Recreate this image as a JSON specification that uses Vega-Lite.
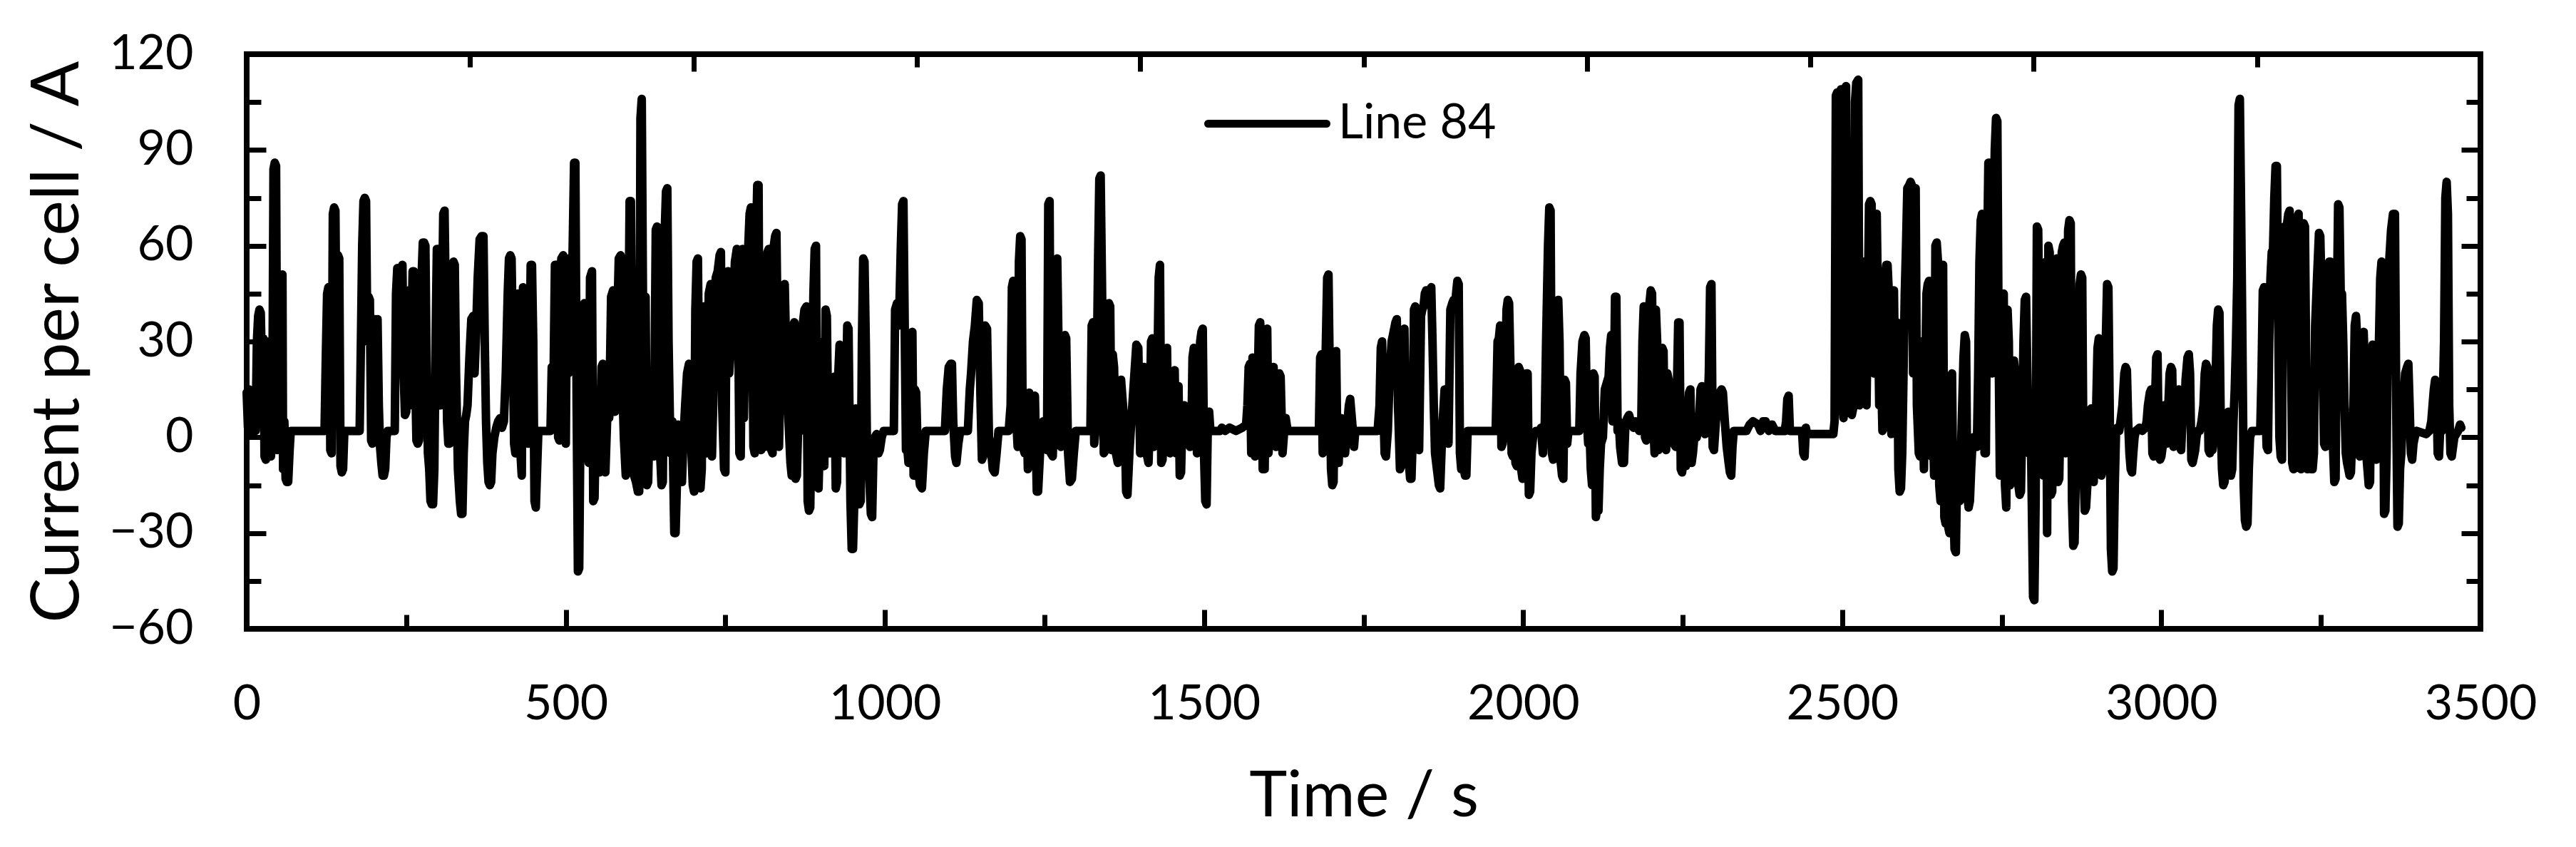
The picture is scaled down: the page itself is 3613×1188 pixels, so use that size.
{
"$schema":"https://vega.github.io/schema/vega-lite/v6.json",
"width":3133,"height":806,
"autosize":{"type":"none"},
"padding":{"left":346,"top":76,"right":134,"bottom":306},
"background":"white",
"data":{"values":[
{"t":0,"v":14},{"t":2,"v":3},{"t":4,"v":15},{"t":6,"v":2},{"t":8,"v":13},{"t":10,"v":1},{"t":12,"v":14},{"t":14,"v":2},{"t":16,"v":30},{"t":18,"v":38},{"t":20,"v":40},{"t":22,"v":39},{"t":24,"v":20},{"t":26,"v":31},{"t":28,"v":-6},{"t":30,"v":-7},{"t":32,"v":30},{"t":34,"v":5},{"t":36,"v":-5},{"t":38,"v":-6},{"t":40,"v":0},{"t":42,"v":84},{"t":44,"v":86},{"t":46,"v":85},{"t":48,"v":-4},{"t":50,"v":5},{"t":52,"v":45},{"t":54,"v":50},{"t":56,"v":51},{"t":57,"v":-10},{"t":59,"v":5},{"t":61,"v":-13},{"t":63,"v":-14},{"t":65,"v":-14},{"t":67,"v":-5},{"t":69,"v":2},
{"t":122,"v":2},{"t":124,"v":25},{"t":126,"v":45},{"t":128,"v":47},{"t":130,"v":46},{"t":131,"v":-4},{"t":133,"v":-5},{"t":135,"v":70},{"t":137,"v":72},{"t":139,"v":71},{"t":141,"v":20},{"t":143,"v":57},{"t":145,"v":56},{"t":147,"v":-9},{"t":149,"v":-11},{"t":151,"v":-10},{"t":153,"v":2},{"t":177,"v":2},{"t":179,"v":30},{"t":181,"v":60},{"t":183,"v":74},{"t":185,"v":75},{"t":187,"v":74},{"t":189,"v":30},{"t":191,"v":44},{"t":193,"v":43},{"t":195,"v":-1},{"t":197,"v":-2},{"t":199,"v":30},{"t":201,"v":37},{"t":203,"v":36},{"t":205,"v":37},{"t":207,"v":10},{"t":209,"v":-3},{"t":211,"v":-8},{"t":213,"v":-12},{"t":215,"v":-12},{"t":217,"v":-10},{"t":219,"v":0},{"t":221,"v":2},{"t":230,"v":2},
{"t":232,"v":2},{"t":234,"v":45},{"t":236,"v":53},{"t":238,"v":53},{"t":240,"v":30},{"t":242,"v":53},{"t":244,"v":54},{"t":246,"v":20},{"t":248,"v":7},{"t":250,"v":8},{"t":252,"v":45},{"t":254,"v":46},{"t":256,"v":10},{"t":258,"v":30},{"t":260,"v":52},{"t":262,"v":52},{"t":264,"v":20},{"t":266,"v":-1},{"t":268,"v":-2},{"t":270,"v":-1},{"t":272,"v":10},{"t":274,"v":50},{"t":276,"v":61},{"t":278,"v":61},{"t":280,"v":60},{"t":282,"v":20},{"t":284,"v":-5},{"t":286,"v":-10},{"t":288,"v":-20},{"t":290,"v":-21},{"t":292,"v":-21},{"t":294,"v":-10},{"t":296,"v":30},{"t":298,"v":59},{"t":300,"v":59},{"t":302,"v":30},{"t":304,"v":10},{"t":306,"v":40},{"t":308,"v":70},{"t":310,"v":71},{"t":312,"v":40},{"t":314,"v":5},{"t":316,"v":-2},{"t":318,"v":-2},
{"t":321,"v":40},{"t":324,"v":55},{"t":326,"v":54},{"t":328,"v":20},{"t":331,"v":-10},{"t":334,"v":-20},{"t":336,"v":-24},{"t":338,"v":-24},{"t":340,"v":-5},{"t":342,"v":5},{"t":344,"v":7},{"t":346,"v":10},{"t":349,"v":25},{"t":352,"v":37},{"t":355,"v":38},{"t":357,"v":20},{"t":359,"v":30},{"t":362,"v":50},{"t":365,"v":62},{"t":368,"v":63},{"t":371,"v":63},{"t":373,"v":30},{"t":375,"v":5},{"t":377,"v":-8},{"t":379,"v":-14},{"t":381,"v":-15},{"t":383,"v":-14},{"t":385,"v":-5},{"t":388,"v":0},{"t":391,"v":3},{"t":394,"v":5},{"t":397,"v":6},{"t":400,"v":3},{"t":403,"v":5},{"t":406,"v":20},{"t":409,"v":45},{"t":411,"v":56},{"t":413,"v":57},{"t":415,"v":56},{"t":417,"v":30},{"t":419,"v":-2},{"t":421,"v":-5},{"t":423,"v":44},{"t":425,"v":45},{"t":427,"v":10},{"t":429,"v":-5},{"t":431,"v":-12},{"t":433,"v":47},{"t":435,"v":46},{"t":437,"v":20},{"t":439,"v":0},{"t":441,"v":-2},{"t":443,"v":20},{"t":445,"v":54},{"t":447,"v":54},{"t":449,"v":30},{"t":451,"v":-20},{"t":453,"v":-22},{"t":455,"v":-10},{"t":457,"v":2},{"t":476,"v":2},
{"t":478,"v":22},{"t":480,"v":5},{"t":483,"v":54},{"t":486,"v":54},{"t":488,"v":0},{"t":490,"v":-1},{"t":493,"v":56},{"t":496,"v":57},{"t":498,"v":0},{"t":500,"v":-2},{"t":502,"v":56},{"t":504,"v":20},{"t":506,"v":30},{"t":510,"v":50},{"t":513,"v":86},{"t":515,"v":86},{"t":517,"v":10},{"t":519,"v":-42},{"t":521,"v":-41},{"t":523,"v":5},{"t":526,"v":40},{"t":529,"v":42},{"t":531,"v":20},{"t":534,"v":0},{"t":536,"v":-8},{"t":538,"v":50},{"t":541,"v":52},{"t":543,"v":-20},{"t":545,"v":-19},{"t":547,"v":5},{"t":550,"v":-5},{"t":553,"v":-11},{"t":556,"v":22},{"t":558,"v":23},{"t":560,"v":8},{"t":562,"v":-11},{"t":565,"v":7},{"t":568,"v":6},{"t":571,"v":44},{"t":574,"v":46},{"t":577,"v":8},{"t":580,"v":30},{"t":583,"v":56},{"t":586,"v":57},{"t":588,"v":20},{"t":591,"v":0},{"t":594,"v":-12},{"t":597,"v":5},{"t":600,"v":74},{"t":602,"v":74},{"t":604,"v":20},{"t":607,"v":-12},{"t":610,"v":-14},{"t":613,"v":-17},{"t":615,"v":-17},{"t":617,"v":100},{"t":619,"v":106},{"t":621,"v":40},{"t":623,"v":-5},{"t":625,"v":44},{"t":627,"v":-15},{"t":629,"v":-14},{"t":631,"v":5},{"t":634,"v":4},{"t":638,"v":-6},{"t":641,"v":65},{"t":643,"v":66},{"t":645,"v":30},{"t":648,"v":-6},{"t":650,"v":-15},{"t":652,"v":-14},{"t":655,"v":64},{"t":657,"v":77},{"t":659,"v":78},{"t":661,"v":30},{"t":664,"v":-5},{"t":667,"v":5},{"t":670,"v":-30},{"t":672,"v":-30},{"t":674,"v":-15},{"t":676,"v":4},{"t":679,"v":-8},{"t":682,"v":-14},{"t":684,"v":-2},{"t":687,"v":10},{"t":690,"v":20},{"t":693,"v":23},{"t":696,"v":0},{"t":699,"v":-15},{"t":701,"v":-17},{"t":703,"v":40},{"t":705,"v":55},
{"t":707,"v":56},{"t":709,"v":10},{"t":711,"v":-16},{"t":713,"v":-10},{"t":715,"v":40},{"t":717,"v":41},{"t":719,"v":5},{"t":721,"v":-5},{"t":724,"v":45},{"t":727,"v":48},{"t":729,"v":-6},{"t":732,"v":20},{"t":735,"v":50},{"t":738,"v":52},{"t":741,"v":57},{"t":743,"v":58},{"t":745,"v":10},{"t":748,"v":-10},{"t":750,"v":-11},{"t":752,"v":50},{"t":754,"v":52},{"t":756,"v":20},{"t":759,"v":30},{"t":762,"v":38},{"t":765,"v":55},{"t":768,"v":59},{"t":770,"v":40},{"t":772,"v":-5},{"t":774,"v":-6},{"t":777,"v":59},{"t":779,"v":6},{"t":782,"v":40},{"t":785,"v":55},{"t":788,"v":70},{"t":790,"v":72},{"t":792,"v":40},{"t":794,"v":-3},{"t":796,"v":-5},{"t":798,"v":60},{"t":800,"v":79},{"t":802,"v":79},{"t":804,"v":-3},{"t":806,"v":-4},{"t":808,"v":40},{"t":810,"v":8},{"t":812,"v":-3},{"t":814,"v":55},{"t":816,"v":58},{"t":818,"v":59},{"t":820,"v":20},{"t":822,"v":-4},{"t":824,"v":-5},{"t":826,"v":60},{"t":828,"v":63},{"t":830,"v":64},{"t":832,"v":30},{"t":834,"v":-3},{"t":837,"v":25},{"t":840,"v":47},{"t":843,"v":48},{"t":846,"v":20},{"t":849,"v":5},{"t":852,"v":-8},{"t":854,"v":-12},{"t":856,"v":35},{"t":858,"v":36},{"t":860,"v":-13},{"t":862,"v":-12},{"t":865,"v":10},{"t":868,"v":2},{"t":871,"v":35},{"t":874,"v":40},{"t":877,"v":41},{"t":879,"v":-20},{"t":881,"v":-23},{"t":883,"v":-22},{"t":885,"v":5},{"t":888,"v":45},{"t":890,"v":59},{"t":892,"v":60},{"t":894,"v":-15},{"t":896,"v":-16},{"t":898,"v":0},{"t":900,"v":10},{"t":903,"v":30},{"t":905,"v":-9},{"t":907,"v":40},{"t":909,"v":38},{"t":911,"v":5},{"t":914,"v":-5},{"t":917,"v":0},{"t":919,"v":18},{"t":921,"v":19},{"t":923,"v":-16},{"t":925,"v":-14},{"t":927,"v":20},{"t":929,"v":29},{"t":931,"v":28},{"t":933,"v":0},{"t":936,"v":-5},{"t":939,"v":10},{"t":941,"v":35},{"t":943,"v":34},{"t":946,"v":-20},{"t":948,"v":-35},{"t":950,"v":-35},{"t":952,"v":-20},{"t":954,"v":9},{"t":956,"v":8},{"t":958,"v":-8},{"t":960,"v":-21},{"t":962,"v":-20},{"t":964,"v":30},{"t":966,"v":56},{"t":968,"v":55},{"t":970,"v":30},{"t":972,"v":-5},{"t":975,"v":-10},{"t":978,"v":-24},{"t":980,"v":-25},{"t":982,"v":-5},{"t":984,"v":0},{"t":987,"v":1},{"t":990,"v":-5},{"t":992,"v":-4},{"t":995,"v":0},{"t":998,"v":2},{"t":1014,"v":2},{"t":1016,"v":40},{"t":1019,"v":42},{"t":1022,"v":35},{"t":1025,"v":60},{"t":1027,"v":73},{"t":1029,"v":74},{"t":1031,"v":35},{"t":1033,"v":-4},{"t":1035,"v":-3},{"t":1037,"v":-8},{"t":1039,"v":10},{"t":1041,"v":32},{"t":1043,"v":33},{"t":1045,"v":-12},{"t":1047,"v":15},{"t":1049,"v":14},{"t":1052,"v":-10},{"t":1055,"v":-15},{"t":1058,"v":-16},{"t":1061,"v":-5},{"t":1064,"v":2},{"t":1094,"v":2},{"t":1097,"v":15},{"t":1100,"v":22},{"t":1103,"v":23},{"t":1105,"v":23},{"t":1107,"v":5},{"t":1110,"v":-6},{"t":1112,"v":-8},{"t":1115,"v":-2},{"t":1118,"v":2},{"t":1130,"v":2},{"t":1133,"v":15},{"t":1135,"v":20},{"t":1138,"v":30},{"t":1141,"v":35},{"t":1144,"v":43},{"t":1147,"v":42},{"t":1150,"v":10},{"t":1152,"v":-7},{"t":1154,"v":-6},{"t":1157,"v":35},{"t":1160,"v":34},{"t":1163,"v":0},{"t":1166,"v":-3},{"t":1169,"v":-10},{"t":1172,"v":-11},{"t":1175,"v":-5},{"t":1178,"v":2},{"t":1194,"v":2},{"t":1197,"v":10},{"t":1199,"v":47},{"t":1201,"v":49},{"t":1203,"v":48},{"t":1206,"v":5},{"t":1208,"v":-3},{"t":1210,"v":55},{"t":1212,"v":63},{"t":1214,"v":62},{"t":1216,"v":-3},{"t":1219,"v":-5},{"t":1222,"v":10},{"t":1224,"v":-10},{"t":1226,"v":14},{"t":1229,"v":-5},{"t":1232,"v":12},{"t":1235,"v":13},{"t":1238,"v":-17},{"t":1240,"v":-17},{"t":1243,"v":-5},{"t":1246,"v":2},{"t":1248,"v":5},{"t":1250,"v":2},{"t":1254,"v":-4},{"t":1256,"v":73},{"t":1258,"v":74},{"t":1260,"v":-5},{"t":1263,"v":-6},{"t":1266,"v":20},{"t":1268,"v":55},{"t":1270,"v":56},{"t":1273,"v":15},{"t":1276,"v":-3},{"t":1279,"v":10},{"t":1282,"v":32},{"t":1284,"v":31},{"t":1287,"v":-5},{"t":1290,"v":-14},{"t":1293,"v":-13},{"t":1296,"v":-5},{"t":1299,"v":2},{"t":1322,"v":2},{"t":1324,"v":35},{"t":1326,"v":36},{"t":1328,"v":-2},{"t":1331,"v":5},{"t":1334,"v":55},{"t":1336,"v":81},{"t":1338,"v":82},{"t":1340,"v":50},{"t":1343,"v":-5},{"t":1346,"v":-4},{"t":1349,"v":10},{"t":1351,"v":42},{"t":1353,"v":41},{"t":1355,"v":-4},{"t":1357,"v":26},{"t":1359,"v":22},{"t":1362,"v":-5},{"t":1365,"v":-8},{"t":1368,"v":15},{"t":1370,"v":18},{"t":1373,"v":10},{"t":1376,"v":2},{"t":1378,"v":-17},{"t":1380,"v":-18},{"t":1383,"v":-5},{"t":1386,"v":5},{"t":1391,"v":20},{"t":1394,"v":29},{"t":1397,"v":28},{"t":1400,"v":-5},{"t":1403,"v":-3},{"t":1406,"v":22},{"t":1408,"v":21},
{"t":1410,"v":-5},{"t":1413,"v":-8},{"t":1415,"v":5},{"t":1417,"v":30},{"t":1419,"v":31},{"t":1421,"v":-3},{"t":1424,"v":0},{"t":1427,"v":20},{"t":1429,"v":50},{"t":1431,"v":54},{"t":1433,"v":-8},{"t":1435,"v":-7},{"t":1437,"v":10},{"t":1440,"v":26},{"t":1442,"v":28},{"t":1444,"v":-3},{"t":1447,"v":-5},{"t":1450,"v":5},{"t":1452,"v":20},{"t":1454,"v":21},{"t":1456,"v":-5},{"t":1458,"v":15},{"t":1460,"v":16},{"t":1462,"v":-12},{"t":1464,"v":-11},{"t":1466,"v":5},{"t":1469,"v":10},{"t":1472,"v":7},{"t":1475,"v":9},{"t":1478,"v":-3},{"t":1480,"v":-2},{"t":1482,"v":25},{"t":1484,"v":28},{"t":1486,"v":27},{"t":1489,"v":-5},{"t":1491,"v":-4},{"t":1494,"v":30},{"t":1496,"v":33},{"t":1498,"v":34},{"t":1500,"v":-5},{"t":1502,"v":-20},{"t":1504,"v":-21},{"t":1506,"v":5},{"t":1508,"v":8},{"t":1510,"v":2},{"t":1512,"v":2},{"t":1525,"v":2},{"t":1528,"v":3},{"t":1533,"v":2},{"t":1540,"v":3},{"t":1550,"v":2},{"t":1560,"v":3},{"t":1566,"v":4},{"t":1568,"v":10},{"t":1570,"v":22},{"t":1572,"v":23},{"t":1574,"v":-5},{"t":1576,"v":25},{"t":1578,"v":10},{"t":1580,"v":-6},{"t":1583,"v":5},{"t":1586,"v":35},{"t":1588,"v":36},{"t":1590,"v":25},{"t":1592,"v":-10},{"t":1595,"v":-10},{"t":1597,"v":33},{"t":1599,"v":34},{"t":1601,"v":-5},{"t":1604,"v":5},{"t":1607,"v":20},{"t":1609,"v":22},{"t":1611,"v":5},{"t":1613,"v":-3},{"t":1616,"v":5},{"t":1618,"v":20},{"t":1620,"v":19},{"t":1623,"v":-5},{"t":1626,"v":3},{"t":1628,"v":6},{"t":1631,"v":2},{"t":1634,"v":2},{"t":1680,"v":2},{"t":1682,"v":25},{"t":1684,"v":26},{"t":1686,"v":-5},{"t":1688,"v":0},{"t":1691,"v":30},{"t":1693,"v":50},{"t":1695,"v":51},{"t":1697,"v":20},{"t":1699,"v":-10},{"t":1701,"v":-15},{"t":1703,"v":-14},{"t":1705,"v":26},{"t":1707,"v":27},{"t":1709,"v":-5},{"t":1711,"v":-8},{"t":1713,"v":5},{"t":1715,"v":6},{"t":1718,"v":-2},{"t":1721,"v":-5},{"t":1724,"v":3},{"t":1727,"v":10},{"t":1729,"v":12},{"t":1732,"v":5},{"t":1735,"v":-3},{"t":1737,"v":2},{"t":1772,"v":2},{"t":1775,"v":10},{"t":1777,"v":28},{"t":1779,"v":30},{"t":1781,"v":10},{"t":1783,"v":-5},{"t":1785,"v":-6},{"t":1788,"v":2},{"t":1791,"v":20},{"t":1794,"v":30},{"t":1797,"v":33},{"t":1800,"v":36},{"t":1802,"v":37},{"t":1804,"v":10},{"t":1807,"v":-10},{"t":1809,"v":-9},{"t":1812,"v":33},{"t":1814,"v":34},{"t":1816,"v":5},{"t":1818,"v":-5},{"t":1821,"v":-8},{"t":1823,"v":-13},{"t":1825,"v":-13},{"t":1827,"v":0},{"t":1829,"v":40},{"t":1831,"v":41},{"t":1833,"v":20},{"t":1835,"v":-2},{"t":1837,"v":-4},{"t":1840,"v":38},{"t":1842,"v":40},{"t":1844,"v":41},{"t":1846,"v":45},{"t":1848,"v":46},{"t":1850,"v":46},{"t":1852,"v":44},{"t":1854,"v":45},{"t":1856,"v":47},{"t":1858,"v":30},{"t":1860,"v":10},{"t":1862,"v":-5},{"t":1865,"v":-10},{"t":1868,"v":-15},{"t":1870,"v":-16},{"t":1872,"v":-5},{"t":1874,"v":5},{"t":1877,"v":15},{"t":1880,"v":14},{"t":1883,"v":-2},{"t":1886,"v":40},{"t":1889,"v":42},{"t":1891,"v":43},{"t":1893,"v":40},{"t":1895,"v":45},{"t":1897,"v":49},{"t":1899,"v":48},{"t":1901,"v":-5},{"t":1903,"v":-10},{"t":1905,"v":-9},{"t":1907,"v":-10},{"t":1909,"v":-12},{"t":1911,"v":-12},{"t":1913,"v":2},{"t":1957,"v":2},{"t":1960,"v":30},{"t":1962,"v":31},{"t":1964,"v":35},{"t":1966,"v":-3},{"t":1968,"v":-2},{"t":1971,"v":5},{"t":1974,"v":40},{"t":1976,"v":43},{"t":1978,"v":42},{"t":1980,"v":23},{"t":1982,"v":-5},{"t":1984,"v":-6},{"t":1986,"v":20},{"t":1988,"v":-8},{"t":1990,"v":-9},{"t":1993,"v":22},{"t":1995,"v":21},{"t":1997,"v":-10},{"t":1999,"v":-13},{"t":2002,"v":-5},{"t":2005,"v":20},{"t":2007,"v":20},{"t":2009,"v":-18},{"t":2011,"v":-17},{"t":2013,"v":-5},{"t":2016,"v":1},{"t":2020,"v":2},{"t":2026,"v":2},{"t":2028,"v":3},{"t":2031,"v":-5},{"t":2034,"v":5},{"t":2036,"v":30},{"t":2039,"v":60},{"t":2041,"v":72},{"t":2043,"v":71},{"t":2045,"v":-5},{"t":2047,"v":-7},{"t":2049,"v":-4},{"t":2051,"v":5},{"t":2053,"v":40},{"t":2055,"v":43},{"t":2057,"v":30},{"t":2059,"v":-8},{"t":2061,"v":-12},{"t":2063,"v":-13},{"t":2065,"v":18},{"t":2067,"v":17},{"t":2069,"v":-2},{"t":2071,"v":2},{"t":2088,"v":2},{"t":2090,"v":20},{"t":2093,"v":30},{"t":2096,"v":32},{"t":2098,"v":31},{"t":2100,"v":5},{"t":2102,"v":-2},{"t":2104,"v":3},{"t":2106,"v":-10},{"t":2108,"v":-15},{"t":2110,"v":20},{"t":2112,"v":19},{"t":2114,"v":-25},
{"t":2116,"v":-22},{"t":2118,"v":-23},{"t":2120,"v":-10},{"t":2122,"v":-2},{"t":2125,"v":0},{"t":2128,"v":15},{"t":2131,"v":17},{"t":2134,"v":19},{"t":2136,"v":28},{"t":2138,"v":32},{"t":2140,"v":5},{"t":2142,"v":10},{"t":2144,"v":44},{"t":2146,"v":44},{"t":2148,"v":2},{"t":2150,"v":5},{"t":2152,"v":-3},{"t":2155,"v":-8},{"t":2158,"v":-8},{"t":2160,"v":3},{"t":2163,"v":6},{"t":2166,"v":7},{"t":2170,"v":4},{"t":2173,"v":3},{"t":2176,"v":5},{"t":2179,"v":3},{"t":2182,"v":2},{"t":2185,"v":3},{"t":2187,"v":30},{"t":2189,"v":41},{"t":2191,"v":0},{"t":2193,"v":-1},{"t":2195,"v":40},{"t":2198,"v":42},{"t":2200,"v":46},{"t":2202,"v":45},{"t":2204,"v":5},{"t":2206,"v":-5},{"t":2208,"v":40},{"t":2210,"v":30},{"t":2212,"v":-4},{"t":2214,"v":-3},{"t":2216,"v":20},{"t":2218,"v":28},{"t":2220,"v":27},{"t":2222,"v":-3},{"t":2224,"v":-4},{"t":2226,"v":20},{"t":2228,"v":18},{"t":2230,"v":5},{"t":2233,"v":2},{"t":2236,"v":-2},{"t":2239,"v":-3},{"t":2241,"v":15},{"t":2243,"v":36},{"t":2245,"v":36},{"t":2247,"v":-10},{"t":2249,"v":-11},{"t":2251,"v":-8},{"t":2253,"v":-5},{"t":2255,"v":-9},{"t":2257,"v":5},{"t":2260,"v":14},{"t":2262,"v":15},{"t":2264,"v":-8},{"t":2266,"v":-5},{"t":2269,"v":2},{"t":2272,"v":0},{"t":2275,"v":3},{"t":2278,"v":15},{"t":2280,"v":16},{"t":2282,"v":5},{"t":2285,"v":1},{"t":2288,"v":3},{"t":2291,"v":20},{"t":2293,"v":47},{"t":2295,"v":48},{"t":2297,"v":-3},{"t":2299,"v":-4},{"t":2302,"v":5},{"t":2305,"v":10},{"t":2308,"v":14},{"t":2311,"v":15},{"t":2313,"v":14},{"t":2316,"v":5},{"t":2319,"v":-3},{"t":2322,"v":-8},{"t":2324,"v":-11},{"t":2326,"v":-12},{"t":2328,"v":-3},{"t":2330,"v":2},{"t":2350,"v":2},{"t":2355,"v":4},{"t":2360,"v":5},{"t":2368,"v":4},{"t":2372,"v":2},{"t":2376,"v":5},{"t":2380,"v":5},{"t":2385,"v":2},{"t":2390,"v":4},{"t":2395,"v":2},{"t":2410,"v":2},{"t":2412,"v":5},{"t":2414,"v":12},{"t":2416,"v":13},{"t":2418,"v":2},{"t":2437,"v":2},{"t":2439,"v":-5},{"t":2441,"v":-6},{"t":2443,"v":3},{"t":2445,"v":1},{"t":2486,"v":1},{"t":2488,"v":5},{"t":2490,"v":107},{"t":2492,"v":108},{"t":2494,"v":10},{"t":2496,"v":108},{"t":2498,"v":109},{"t":2500,"v":10},{"t":2502,"v":6},{"t":2504,"v":109},{"t":2506,"v":110},{"t":2508,"v":8},{"t":2512,"v":8},{"t":2515,"v":7},{"t":2518,"v":10},{"t":2520,"v":105},{"t":2522,"v":111},{"t":2525,"v":112},{"t":2527,"v":10},{"t":2530,"v":15},{"t":2532,"v":50},{"t":2534,"v":55},{"t":2536,"v":15},{"t":2538,"v":10},{"t":2540,"v":40},{"t":2542,"v":73},{"t":2544,"v":74},{"t":2546,"v":73},{"t":2548,"v":30},{"t":2550,"v":20},{"t":2552,"v":65},{"t":2554,"v":70},{"t":2556,"v":40},{"t":2558,"v":10},{"t":2561,"v":20},{"t":2563,"v":2},{"t":2565,"v":3},{"t":2567,"v":50},{"t":2569,"v":54},{"t":2571,"v":54},{"t":2573,"v":45},{"t":2575,"v":30},{"t":2577,"v":1},{"t":2579,"v":45},{"t":2581,"v":46},{"t":2583,"v":10},{"t":2586,"v":36},{"t":2588,"v":-10},{"t":2590,"v":-17},{"t":2592,"v":-16},{"t":2594,"v":-5},{"t":2596,"v":20},{"t":2598,"v":45},{"t":2600,"v":60},{"t":2602,"v":78},{"t":2605,"v":79},{"t":2607,"v":80},{"t":2609,"v":79},{"t":2611,"v":20},{"t":2613,"v":78},{"t":2615,"v":78},{"t":2617,"v":10},{"t":2620,"v":-5},{"t":2622,"v":-6},{"t":2624,"v":30},{"t":2626,"v":15},{"t":2628,"v":-10},{"t":2630,"v":20},{"t":2632,"v":45},{"t":2634,"v":48},{"t":2636,"v":49},{"t":2638,"v":-3},{"t":2640,"v":-6},{"t":2642,"v":5},{"t":2644,"v":-12},{"t":2646,"v":60},{"t":2648,"v":61},{"t":2650,"v":55},{"t":2652,"v":-15},{"t":2654,"v":-20},{"t":2656,"v":50},{"t":2658,"v":54},{"t":2660,"v":-25},{"t":2662,"v":-27},{"t":2664,"v":-10},{"t":2666,"v":-28},{"t":2668,"v":-30},{"t":2670,"v":18},{"t":2672,"v":20},{"t":2674,"v":-20},{"t":2676,"v":-35},{"t":2678,"v":-36},{"t":2680,"v":-10},{"t":2682,"v":-15},{"t":2684,"v":-20},{"t":2686,"v":-5},{"t":2688,"v":10},{"t":2690,"v":25},{"t":2692,"v":32},{"t":2694,"v":30},{"t":2696,"v":-18},{"t":2698,"v":-22},{"t":2700,"v":-20},{"t":2702,"v":-10},{"t":2704,"v":-2},{"t":2706,"v":0},{"t":2709,"v":0},{"t":2711,"v":-3},{"t":2713,"v":20},{"t":2715,"v":55},{"t":2717,"v":68},{"t":2719,"v":70},{"t":2721,"v":40},{"t":2723,"v":-5},{"t":2725,"v":-5},{"t":2727,"v":55},{"t":2729,"v":86},{"t":2731,"v":86},{"t":2733,"v":60},{"t":2735,"v":20},{"t":2737,"v":60},{"t":2739,"v":90},{"t":2741,"v":100},{"t":2743,"v":99},{"t":2745,"v":30},{"t":2747,"v":-12},{"t":2749,"v":-10},{"t":2751,"v":30},{"t":2753,"v":45},{"t":2755,"v":-15},{"t":2757,"v":-22},{"t":2759,"v":40},{"t":2761,"v":30},{"t":2763,"v":-15},{"t":2765,"v":-10},{"t":2767,"v":15},{"t":2769,"v":24},{"t":2771,"v":20},{"t":2774,"v":-5},{"t":2776,"v":-15},{"t":2778,"v":-18},{"t":2780,"v":-17},{"t":2782,"v":5},{"t":2784,"v":30},{"t":2786,"v":43},{"t":2788,"v":44},{"t":2790,"v":20},{"t":2792,"v":-5},{"t":2795,"v":10},{"t":2797,"v":-20},{"t":2799,"v":-50},{"t":2801,"v":-51},{"t":2803,"v":-20},{"t":2805,"v":66},{"t":2807,"v":65},{"t":2809,"v":30},{"t":2811,"v":-10},{"t":2813,"v":20},{"t":2815,"v":-12},{"t":2817,"v":40},{"t":2819,"v":55},
{"t":2821,"v":-30},{"t":2823,"v":60},{"t":2825,"v":58},{"t":2827,"v":-18},{"t":2829,"v":-17},{"t":2831,"v":30},{"t":2833,"v":55},{"t":2836,"v":56},{"t":2838,"v":-14},{"t":2840,"v":-13},{"t":2842,"v":10},{"t":2844,"v":58},{"t":2846,"v":60},{"t":2848,"v":61},{"t":2850,"v":-5},{"t":2852,"v":20},{"t":2854,"v":65},{"t":2856,"v":68},{"t":2858,"v":67},{"t":2860,"v":-20},{"t":2862,"v":-34},{"t":2864,"v":-33},{"t":2866,"v":-10},{"t":2868,"v":10},{"t":2870,"v":20},{"t":2872,"v":48},{"t":2874,"v":51},{"t":2876,"v":50},{"t":2878,"v":-10},{"t":2880,"v":-23},{"t":2882,"v":-22},{"t":2884,"v":-15},{"t":2886,"v":-10},{"t":2888,"v":5},{"t":2890,"v":9},{"t":2892,"v":-12},{"t":2894,"v":-14},{"t":2896,"v":5},{"t":2898,"v":10},{"t":2900,"v":28},{"t":2902,"v":31},{"t":2904,"v":30},{"t":2906,"v":-12},{"t":2908,"v":-10},{"t":2910,"v":0},{"t":2913,"v":30},{"t":2915,"v":48},{"t":2917,"v":47},{"t":2919,"v":10},{"t":2921,"v":-35},{"t":2923,"v":-42},{"t":2925,"v":-41},{"t":2927,"v":-15},{"t":2929,"v":2},{"t":2931,"v":3},{"t":2934,"v":2},{"t":2936,"v":5},{"t":2939,"v":10},{"t":2942,"v":20},{"t":2944,"v":22},{"t":2946,"v":21},{"t":2948,"v":5},{"t":2950,"v":-5},{"t":2952,"v":-10},{"t":2954,"v":-11},{"t":2956,"v":-5},{"t":2958,"v":0},{"t":2960,"v":2},{"t":2966,"v":3},{"t":2970,"v":2},{"t":2975,"v":3},{"t":2977,"v":5},{"t":2979,"v":10},{"t":2982,"v":14},{"t":2984,"v":15},{"t":2986,"v":-5},{"t":2988,"v":-6},{"t":2990,"v":10},{"t":2992,"v":25},{"t":2994,"v":26},{"t":2996,"v":-5},{"t":2998,"v":-7},{"t":3000,"v":-6},{"t":3002,"v":-3},{"t":3004,"v":10},{"t":3006,"v":2},{"t":3008,"v":-2},{"t":3010,"v":5},{"t":3013,"v":20},{"t":3015,"v":22},{"t":3017,"v":21},{"t":3019,"v":-3},{"t":3021,"v":0},{"t":3023,"v":10},{"t":3025,"v":14},{"t":3027,"v":15},{"t":3029,"v":-3},{"t":3031,"v":-4},{"t":3033,"v":5},{"t":3036,"v":5},{"t":3038,"v":18},{"t":3041,"v":25},{"t":3043,"v":26},{"t":3045,"v":20},{"t":3047,"v":-7},{"t":3049,"v":-8},{"t":3051,"v":-6},{"t":3053,"v":-4},{"t":3055,"v":0},{"t":3057,"v":2},{"t":3060,"v":2},{"t":3063,"v":5},{"t":3066,"v":10},{"t":3068,"v":20},{"t":3070,"v":23},{"t":3072,"v":22},{"t":3074,"v":-4},{"t":3076,"v":-5},{"t":3078,"v":-2},{"t":3080,"v":-4},{"t":3082,"v":0},{"t":3084,"v":10},{"t":3087,"v":35},{"t":3089,"v":40},{"t":3091,"v":39},{"t":3093,"v":5},{"t":3095,"v":-10},{"t":3097,"v":-15},{"t":3099,"v":-14},{"t":3101,"v":-8},{"t":3103,"v":0},{"t":3105,"v":8},{"t":3107,"v":0},{"t":3109,"v":-12},{"t":3111,"v":-10},{"t":3113,"v":5},{"t":3115,"v":15},{"t":3117,"v":30},{"t":3119,"v":50},{"t":3121,"v":104},{"t":3123,"v":106},{"t":3125,"v":70},{"t":3127,"v":30},{"t":3129,"v":-15},{"t":3131,"v":-26},{"t":3133,"v":-28},{"t":3135,"v":-27},{"t":3137,"v":-10},{"t":3139,"v":0},{"t":3142,"v":2},{"t":3155,"v":2},{"t":3157,"v":20},{"t":3159,"v":46},{"t":3161,"v":47},{"t":3163,"v":10},{"t":3165,"v":-3},{"t":3167,"v":-4},{"t":3169,"v":30},{"t":3171,"v":50},{"t":3173,"v":58},{"t":3175,"v":59},{"t":3177,"v":75},{"t":3179,"v":85},{"t":3181,"v":85},{"t":3183,"v":40},{"t":3185,"v":0},{"t":3187,"v":-6},{"t":3189,"v":-7},{"t":3191,"v":65},{"t":3193,"v":66},{"t":3195,"v":60},{"t":3197,"v":67},{"t":3199,"v":70},{"t":3201,"v":71},{"t":3203,"v":30},{"t":3205,"v":-8},{"t":3207,"v":-10},{"t":3209,"v":55},{"t":3211,"v":68},{"t":3213,"v":69},{"t":3215,"v":70},{"t":3217,"v":20},{"t":3219,"v":-10},{"t":3221,"v":-9},{"t":3223,"v":67},{"t":3225,"v":66},{"t":3227,"v":20},{"t":3229,"v":-10},{"t":3231,"v":-9},{"t":3233,"v":10},{"t":3235,"v":-10},{"t":3237,"v":-10},{"t":3239,"v":-5},{"t":3241,"v":35},{"t":3244,"v":50},{"t":3247,"v":64},{"t":3249,"v":63},{"t":3251,"v":45},{"t":3253,"v":20},{"t":3255,"v":-2},{"t":3257,"v":-3},{"t":3259,"v":10},{"t":3261,"v":40},{"t":3263,"v":55},{"t":3265,"v":55},{"t":3267,"v":30},{"t":3269,"v":-3},{"t":3271,"v":-14},{"t":3273,"v":-13},{"t":3275,"v":40},{"t":3277,"v":73},{"t":3279,"v":72},{"t":3281,"v":45},{"t":3283,"v":45},{"t":3285,"v":30},{"t":3287,"v":10},{"t":3289,"v":-5},{"t":3291,"v":-8},{"t":3293,"v":-10},{"t":3295,"v":-12},{"t":3297,"v":-11},{"t":3299,"v":0},{"t":3301,"v":10},{"t":3303,"v":35},{"t":3305,"v":38},{"t":3307,"v":30},{"t":3309,"v":-5},{"t":3311,"v":-6},{"t":3313,"v":5},{"t":3315,"v":32},{"t":3317,"v":33},{"t":3319,"v":20},{"t":3321,"v":-5},{"t":3323,"v":-10},{"t":3325,"v":-15},{"t":3327,"v":-14},{"t":3329,"v":25},{"t":3331,"v":29},{"t":3333,"v":25},{"t":3335,"v":-5},{"t":3337,"v":-7},{"t":3339,"v":15},{"t":3341,"v":30},{"t":3343,"v":50},{"t":3345,"v":55},{"t":3347,"v":54},{"t":3349,"v":-24},{"t":3351,"v":-23},{"t":3353,"v":-5},{"t":3355,"v":35},{"t":3357,"v":55},{"t":3360,"v":65},{"t":3363,"v":70},{"t":3366,"v":70},{"t":3368,"v":10},{"t":3370,"v":-28},{"t":3372,"v":-27},{"t":3374,"v":-10},{"t":3376,"v":-5},{"t":3379,"v":10},{"t":3382,"v":20},{"t":3385,"v":22},{"t":3387,"v":23},{"t":3389,"v":10},{"t":3391,"v":-5},{"t":3393,"v":-7},{"t":3395,"v":-2},{"t":3397,"v":0},{"t":3400,"v":2},{"t":3415,"v":1},{"t":3420,"v":2},{"t":3423,"v":5},{"t":3425,"v":10},{"t":3427,"v":15},{"t":3429,"v":18},{"t":3431,"v":17},{"t":3433,"v":-5},{"t":3435,"v":-6},{"t":3437,"v":3},{"t":3440,"v":2},{"t":3443,"v":30},{"t":3445,"v":75},{"t":3447,"v":80},{"t":3449,"v":70},{"t":3451,"v":10},{"t":3453,"v":-5},{"t":3455,"v":-6},{"t":3457,"v":-3},{"t":3459,"v":0},{"t":3462,"v":1},{"t":3465,"v":2},{"t":3468,"v":4},{"t":3470,"v":3}
]},
"layer":[
{"mark":{"type":"line","strokeWidth":12,"strokeJoin":"round","strokeCap":"round"},
 "encoding":{
  "x":{"field":"t","type":"quantitative","scale":{"domain":[0,3500],"nice":false,"zero":false},
       "axis":{"orient":"bottom","values":[0,500,1000,1500,2000,2500,3000,3500],"format":"d","tickSize":-27,"labelPadding":133,"labelBaseline":"middle","labelFlush":false,"labelOverlap":false,"title":"Time / s","titleY":235,"titleBaseline":"middle"}},
  "y":{"field":"v","type":"quantitative","scale":{"domain":[-60,120],"nice":false,"zero":false},
       "axis":{"orient":"left","values":[-60,-30,0,30,60,90,120],"format":"d","tickSize":-27,"labelPadding":102,"labelFlush":false,"labelOverlap":false,"title":"Current per cell / A","titleX":-265,"titleY":403,"titleAngle":-90,"titleBaseline":"middle","titleAlign":"center","titleFontSize":94}},
  "color":{"datum":"Line 84","type":"nominal","scale":{"range":["black"]},
   "legend":{"orient":"none","legendX":1343,"legendY":9,"title":null,"symbolType":"stroke","symbolSize":27556,"symbolStrokeWidth":11,"labelFontSize":68,"labelFont":"Lato","labelColor":"black","labelOffset":11,"labelLimit":1000,"padding":0,"encode":{"symbols":{"update":{"strokeCap":{"value":"round"}}}}}}
 }},
{"mark":{"type":"point","opacity":0,"size":1},
 "encoding":{
  "x":{"field":"t","type":"quantitative","axis":{"orient":"bottom","values":[250,750,1250,1750,2250,2750,3250],"tickSize":-20,"labels":false,"title":null}},
  "y":{"field":"v","type":"quantitative","axis":{"orient":"left","values":[-45,-15,15,45,75,105],"tickSize":-20,"labels":false,"title":null}}
 }},
{"mark":{"type":"point","opacity":0,"size":1},
 "encoding":{
  "x":{"field":"t","type":"quantitative","axis":{"orient":"top","values":[700,1400,2100,2800],"tickSize":-24,"labels":false,"title":null}},
  "y":{"field":"v","type":"quantitative","axis":{"orient":"right","values":[-60,-30,0,30,60,90,120],"tickSize":-27,"labels":false,"title":null}}
 }},
{"mark":{"type":"point","opacity":0,"size":1},
 "encoding":{
  "x":{"field":"t","type":"quantitative","axis":{"orient":"top","values":[350,1050,1750,2450,3150],"tickSize":-18,"labels":false,"title":null}},
  "y":{"field":"v","type":"quantitative","axis":{"orient":"right","values":[-45,-15,15,45,75,105],"tickSize":-20,"labels":false,"title":null}}
 }}
],
"resolve":{"axis":{"x":"independent","y":"independent"}},
"config":{
 "font":"Lato",
 "view":{"stroke":"black","strokeWidth":8},
 "axis":{"domain":false,"grid":false,"tickColor":"black","tickWidth":7,"labelFont":"Lato","labelFontSize":68,"labelColor":"black","titleFont":"Lato","titleFontSize":90,"titleFontWeight":"normal","titleColor":"black"}
}
}
